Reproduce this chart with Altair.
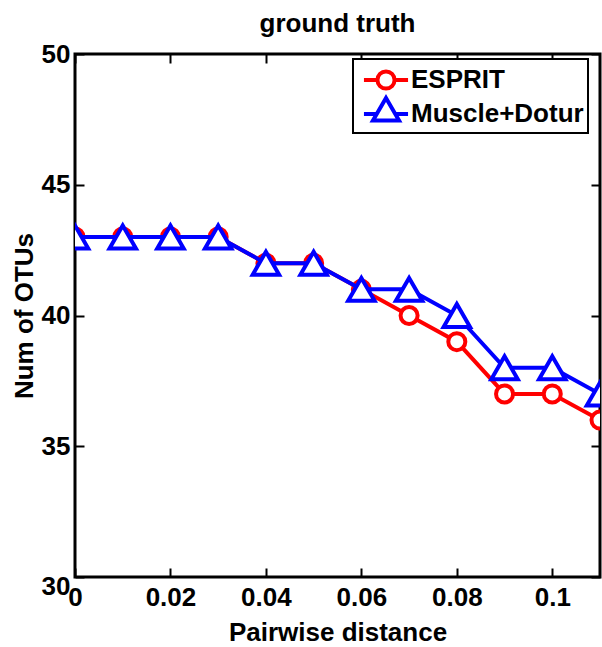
import altair as alt
import pandas as pd

# ---- data ----
distance = [0.0, 0.01, 0.02, 0.03, 0.04, 0.05, 0.06, 0.07, 0.08, 0.09, 0.10, 0.11]
esprit = [43, 43, 43, 43, 42, 42, 41, 40, 39, 37, 37, 36]
muscle_dotur = [43, 43, 43, 43, 42, 42, 41, 41, 40, 38, 38, 37]
series_names = ["ESPRIT", "Muscle+Dotur"]
series_colors = ["#ff0000", "#0000ff"]
x_ticks = [0, 0.02, 0.04, 0.06, 0.08, 0.1]
y_ticks = [30, 35, 40, 45, 50]

rows = []
for name, vals in zip(series_names, [esprit, muscle_dotur]):
    for d, v in zip(distance, vals):
        rows.append({"distance": d, "otus": v, "series": name})
df = pd.DataFrame(rows)

W, H = 525, 523
FONT = "Liberation Sans"
FS = 26

xscale = alt.Scale(domain=[0, 0.11], nice=False, zero=False)
yscale = alt.Scale(domain=[30, 50], nice=False, zero=False)

# main axes (labels and titles, no ticks)
x_main = alt.Axis(orient="bottom", values=x_ticks, format=".2~f", ticks=False, tickSize=0,
                  domain=False, grid=False, labelFont=FONT, labelFontSize=FS,
                  labelFontWeight="bold", labelColor="black", labelPadding=7,
                  labelOverlap=False, labelFlush=False,
                  title="Pairwise distance", titleFont=FONT, titleFontSize=FS,
                  titleFontWeight="bold", titleColor="black", titlePadding=9)
y_main = alt.Axis(orient="left", values=y_ticks, ticks=False, tickSize=0, domain=False,
                  grid=False, labelFont=FONT, labelFontSize=FS, labelFontWeight="bold",
                  labelColor="black", labelPadding=5, labelOverlap=False, labelFlush=False,
                  labelOffset={"condition": {"test": "datum.value == 30", "value": 9}, "value": 0},
                  title="Num of OTUs", titleFont=FONT, titleFontSize=FS,
                  titleFontWeight="bold", titleColor="black", titlePadding=4)

def tick_axis(orient, offset, vals):
    return alt.Axis(orient=orient, offset=offset, values=vals, labels=False, domain=False,
                    grid=False, ticks=True, tickSize=9, tickWidth=2, tickColor="black",
                    title=None)

# inward ticks: bottom edge (up), left edge (right)
x_in_bottom = tick_axis("top", -H, x_ticks)
y_in_left = tick_axis("right", -W, y_ticks)
# inward ticks: top edge (down), right edge (left)
x_in_top = tick_axis("bottom", -H, x_ticks)
y_in_right = tick_axis("left", -W, y_ticks)


def X(axis):
    return alt.X("distance:Q", scale=xscale, axis=axis)


def Y(axis):
    return alt.Y("otus:Q", scale=yscale, axis=axis)


base = alt.Chart(df)

line_e = base.transform_filter(alt.datum.series == series_names[0]).mark_line(
    color=series_colors[0], strokeWidth=4, clip=True
).encode(x=X(x_main), y=Y(y_main))

pts_e = base.transform_filter(alt.datum.series == series_names[0]).mark_point(
    shape="circle", size=290, filled=True, fill="white", stroke=series_colors[0],
    strokeWidth=4, opacity=1, clip=True
).encode(x=X(x_in_bottom), y=Y(y_in_left))

line_m = base.transform_filter(alt.datum.series == series_names[1]).mark_line(
    color=series_colors[1], strokeWidth=4, clip=True
).encode(x=X(x_in_top), y=Y(y_in_right))

pts_m = base.transform_filter(alt.datum.series == series_names[1]).mark_point(
    shape="triangle-up", size=700, filled=True, fill="white", stroke=series_colors[1],
    strokeWidth=4, opacity=1, clip=True
).encode(x=X(None), y=Y(None))

# legend symbols: line segment + marker as custom paths
legend_paths = [
    "M-0.67,0H0.23M1.37,0H2.27M1.37,0A0.57,0.57,0,1,1,0.23,0A0.57,0.57,0,1,1,1.37,0Z",
    "M-0.67,0H0.18M1.42,0H2.27M0.8,-1.07L1.67,0.43L-0.07,0.43Z",
]

legend = alt.Legend(orient="none", legendX=278, legendY=5, title=None, padding=4,
                    rowPadding=-10, symbolSize=900, symbolStrokeWidth=4,
                    labelFont=FONT, labelFontSize=FS, labelFontWeight="bold",
                    labelColor="black", labelOffset=20, labelLimit=400,
                    strokeColor="black", fillColor="white")

legend_layer = base.transform_filter("datum.distance < 0").mark_point(
    filled=False, strokeWidth=4, size=900, opacity=1
).encode(
    x=X(None), y=Y(None),
    color=alt.Color("series:N", scale=alt.Scale(domain=series_names, range=series_colors),
                    legend=legend),
    shape=alt.Shape("series:N", scale=alt.Scale(domain=series_names, range=legend_paths),
                    legend=legend),
)

chart = alt.layer(line_e, pts_e, line_m, pts_m, legend_layer).resolve_axis(
    x="independent", y="independent"
).properties(
    width=W, height=H,
    title=alt.TitleParams("ground truth", font=FONT, fontSize=FS, fontWeight="bold",
                          color="black", anchor="middle", frame="group", offset=4),
    autosize=alt.AutoSizeParams(type="none"),
    padding={"left": 75, "top": 54, "right": 2, "bottom": 70},
    background="white",
).configure_view(stroke="black", strokeWidth=3).configure_legend(strokeWidth=2)

chart.save("out.html", embed_options={"renderer": "svg", "actions": False})
